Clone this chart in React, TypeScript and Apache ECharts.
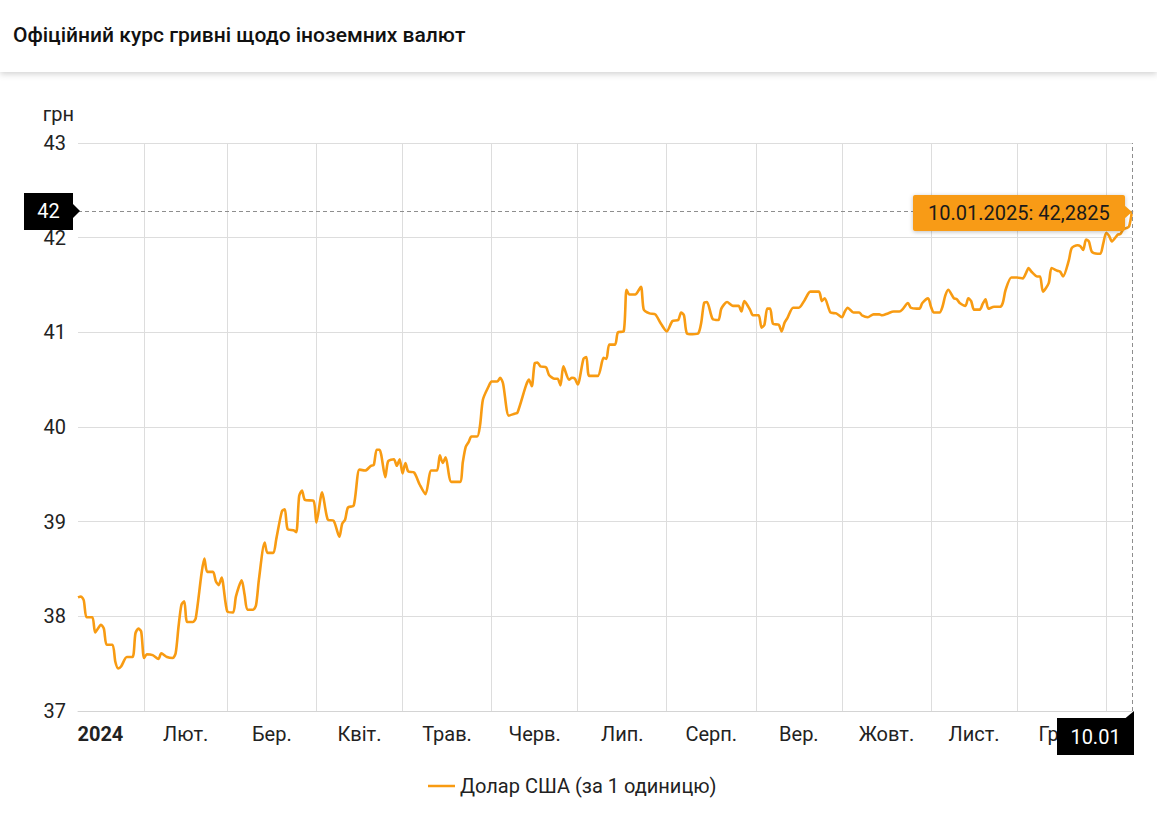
import React, { useEffect, useRef } from "react";
import * as echarts from "echarts";

const TITLE = "Офіційний курс гривні щодо іноземних валют";
const SERIES_NAME = "Долар США (за 1 одиницю)";
const Y_UNIT = "грн";
const MONTH_LABELS = ["Січ.", "Лют.", "Бер.", "Квіт.", "Трав.", "Черв.", "Лип.", "Серп.", "Вер.", "Жовт.", "Лист.", "Груд."];
const YEAR_LABEL = "2024";
const Y_MIN = 37;
const Y_MAX = 43;
const Y_INTERVAL = 1;

const rateDates = [
  "2024-01-09", "2024-01-10", "2024-01-11", "2024-01-12", "2024-01-14", "2024-01-15", "2024-01-17", "2024-01-18", "2024-01-19", "2024-01-21",
  "2024-01-22", "2024-01-23", "2024-01-24", "2024-01-26", "2024-01-28", "2024-01-29", "2024-01-30", "2024-01-31",
  "2024-02-01", "2024-02-02", "2024-02-04", "2024-02-06", "2024-02-07", "2024-02-09", "2024-02-11", "2024-02-12", "2024-02-13", "2024-02-14",
  "2024-02-15", "2024-02-16", "2024-02-18", "2024-02-19", "2024-02-21", "2024-02-22", "2024-02-23", "2024-02-25", "2024-02-26", "2024-02-27", "2024-02-28",
  "2024-03-01", "2024-03-03", "2024-03-04", "2024-03-06", "2024-03-07", "2024-03-08", "2024-03-10", "2024-03-11", "2024-03-12", "2024-03-14",
  "2024-03-15", "2024-03-17", "2024-03-18", "2024-03-20", "2024-03-21", "2024-03-22", "2024-03-24", "2024-03-25", "2024-03-26", "2024-03-27",
  "2024-03-28", "2024-03-31",
  "2024-04-01", "2024-04-03", "2024-04-05", "2024-04-07", "2024-04-09", "2024-04-10", "2024-04-11", "2024-04-12", "2024-04-14", "2024-04-16",
  "2024-04-18", "2024-04-20", "2024-04-21", "2024-04-22", "2024-04-23", "2024-04-25", "2024-04-26", "2024-04-28", "2024-04-29", "2024-04-30",
  "2024-05-01", "2024-05-02", "2024-05-03", "2024-05-05", "2024-05-07", "2024-05-09", "2024-05-11", "2024-05-13", "2024-05-14", "2024-05-15",
  "2024-05-16", "2024-05-18", "2024-05-21", "2024-05-22", "2024-05-23", "2024-05-24", "2024-05-25", "2024-05-27", "2024-05-28", "2024-05-29", "2024-05-31",
  "2024-06-01", "2024-06-03", "2024-06-04", "2024-06-05", "2024-06-07", "2024-06-09", "2024-06-10", "2024-06-13", "2024-06-14", "2024-06-15",
  "2024-06-16", "2024-06-17", "2024-06-18", "2024-06-20", "2024-06-21", "2024-06-23", "2024-06-24", "2024-06-25", "2024-06-26", "2024-06-28",
  "2024-06-29", "2024-06-30",
  "2024-07-01", "2024-07-03", "2024-07-04", "2024-07-05", "2024-07-08", "2024-07-10", "2024-07-11", "2024-07-12", "2024-07-14", "2024-07-15",
  "2024-07-17", "2024-07-18", "2024-07-19", "2024-07-21", "2024-07-23", "2024-07-24", "2024-07-26", "2024-07-28", "2024-07-30",
  "2024-08-01", "2024-08-03", "2024-08-05", "2024-08-06", "2024-08-07", "2024-08-08", "2024-08-10", "2024-08-12", "2024-08-13", "2024-08-14",
  "2024-08-15", "2024-08-17", "2024-08-19", "2024-08-20", "2024-08-22", "2024-08-24", "2024-08-26", "2024-08-27", "2024-08-28", "2024-08-30", "2024-08-31",
  "2024-09-02", "2024-09-03", "2024-09-04", "2024-09-05", "2024-09-06", "2024-09-07", "2024-09-09", "2024-09-10", "2024-09-11", "2024-09-12",
  "2024-09-14", "2024-09-16", "2024-09-18", "2024-09-20", "2024-09-23", "2024-09-24", "2024-09-25", "2024-09-27", "2024-09-29",
  "2024-10-01", "2024-10-02", "2024-10-03", "2024-10-05", "2024-10-07", "2024-10-08", "2024-10-10", "2024-10-12", "2024-10-14", "2024-10-15",
  "2024-10-17", "2024-10-19", "2024-10-21", "2024-10-22", "2024-10-24", "2024-10-25", "2024-10-27", "2024-10-28", "2024-10-29", "2024-10-31",
  "2024-11-01", "2024-11-02", "2024-11-04", "2024-11-05", "2024-11-06", "2024-11-07", "2024-11-09", "2024-11-10", "2024-11-11", "2024-11-13",
  "2024-11-14", "2024-11-15", "2024-11-16", "2024-11-18", "2024-11-19", "2024-11-20", "2024-11-21", "2024-11-23", "2024-11-25", "2024-11-26",
  "2024-11-27", "2024-11-29",
  "2024-12-01", "2024-12-03", "2024-12-04", "2024-12-05", "2024-12-06", "2024-12-08", "2024-12-09", "2024-12-10", "2024-12-12", "2024-12-13",
  "2024-12-15", "2024-12-16", "2024-12-17", "2024-12-19", "2024-12-20", "2024-12-22", "2024-12-23", "2024-12-24", "2024-12-25", "2024-12-26",
  "2024-12-27", "2024-12-29", "2024-12-30", "2024-12-31",
  "2025-01-01", "2025-01-02", "2025-01-03", "2025-01-05", "2025-01-06", "2025-01-07", "2025-01-08", "2025-01-09", "2025-01-10",
];

const rateValues = [
  38.20, 38.21, 38.17, 37.99, 37.99, 37.83, 37.91, 37.87, 37.70, 37.70,
  37.52, 37.45, 37.47, 37.57, 37.57, 37.82, 37.87, 37.84,
  37.56, 37.60, 37.59, 37.55, 37.61, 37.57, 37.56, 37.61, 37.89, 38.12,
  38.16, 37.94, 37.94, 37.98, 38.45, 38.61, 38.47, 38.47, 38.37, 38.33, 38.41,
  38.05, 38.04, 38.21, 38.38, 38.23, 38.07, 38.07, 38.12, 38.39, 38.78,
  38.67, 38.67, 38.81, 39.11, 39.13, 38.92, 38.91, 38.89, 39.27, 39.33,
  39.23, 39.22,
  38.99, 39.31, 39.02, 39.01, 38.84, 38.98, 39.02, 39.15, 39.17, 39.55,
  39.54, 39.59, 39.60, 39.76, 39.76, 39.47, 39.64, 39.66, 39.59, 39.66,
  39.51, 39.62, 39.53, 39.52, 39.39, 39.29, 39.54, 39.54, 39.70, 39.62,
  39.68, 39.42, 39.42, 39.63, 39.79, 39.84, 39.90, 39.90, 40.02, 40.29, 40.43,
  40.48, 40.48, 40.52, 40.46, 40.12, 40.14, 40.15, 40.44, 40.50, 40.43,
  40.67, 40.68, 40.64, 40.63, 40.55, 40.51, 40.51, 40.44, 40.64, 40.50,
  40.52, 40.51,
  40.45, 40.72, 40.74, 40.54, 40.54, 40.73, 40.72, 40.87, 40.87, 41.00,
  41.01, 41.45, 41.40, 41.40, 41.48, 41.24, 41.20, 41.19, 41.09,
  41.01, 41.12, 41.13, 41.21, 41.18, 40.99, 40.98, 40.99, 41.10, 41.31,
  41.32, 41.14, 41.13, 41.25, 41.32, 41.28, 41.28, 41.22, 41.33, 41.24, 41.18,
  41.18, 41.05, 41.08, 41.25, 41.25, 41.09, 41.08, 41.01, 41.10, 41.15,
  41.26, 41.26, 41.34, 41.43, 41.43, 41.33, 41.36, 41.21, 41.20,
  41.16, 41.22, 41.26, 41.21, 41.21, 41.18, 41.16, 41.19, 41.19, 41.18,
  41.20, 41.22, 41.22, 41.24, 41.31, 41.26, 41.25, 41.25, 41.31, 41.36,
  41.27, 41.21, 41.21, 41.27, 41.39, 41.45, 41.36, 41.35, 41.31, 41.28,
  41.36, 41.33, 41.24, 41.24, 41.30, 41.35, 41.25, 41.27, 41.27, 41.31,
  41.45, 41.58,
  41.58, 41.57, 41.62, 41.68, 41.64, 41.59, 41.59, 41.43, 41.52, 41.68,
  41.65, 41.64, 41.59, 41.76, 41.89, 41.92, 41.91, 41.87, 41.98, 41.96,
  41.85, 41.83, 41.83, 41.94,
  42.05, 42.02, 41.96, 42.03, 42.04, 42.09, 42.10, 42.12, 42.2825,
];

const LINE_COLOR = "#f89b12";
const TEXT_COLOR = "#222222";
const FONT = "Roboto, 'Noto Sans', sans-serif";
const FS = 20;
const TOP_Z = 100;

function ts(s: string): number {
  const [y, m, d] = s.split("-").map(Number);
  return new Date(y, m - 1, d).getTime();
}

function fmtDate(s: string, withYear: boolean): string {
  const [y, m, d] = s.split("-");
  return withYear ? `${d}.${m}.${y}` : `${d}.${m}`;
}

export default function App() {
  const ref = useRef<HTMLDivElement | null>(null);

  useEffect(() => {
    if (!ref.current) return;
    const chart = echarts.init(ref.current, undefined, { renderer: "svg" });

    const data = rateDates.map((d, i) => [ts(d), rateValues[i]]);
    const startTs = ts(rateDates[0]);
    const lastDate = rateDates[rateDates.length - 1];
    const lastTs = ts(lastDate);
    const lastVal = rateValues[rateValues.length - 1];

    const monthStarts: number[] = [];
    for (let i = 1; i <= 12; i++) monthStarts.push(new Date(2024, i, 1).getTime());
    const labelVals: number[] = [startTs + 7.8 * 86400000];
    for (let i = 1; i <= 11; i++) {
      const a = new Date(2024, i, 1).getTime();
      const b = new Date(2024, i + 1, 1).getTime();
      labelVals.push((a + b) / 2);
    }

    const option: any = {
      animation: false,
      backgroundColor: "#ffffff",
      textStyle: { fontFamily: FONT },
      title: {
        text: TITLE,
        left: 8,
        top: 19,
        textStyle: { fontSize: 21, fontWeight: 500, color: "#111111", fontFamily: FONT },
      },
      legend: {
        top: 776,
        left: 428,
        icon: "rect",
        itemWidth: 27,
        itemHeight: 2.5,
        itemGap: 10,
        padding: 0,
        textStyle: { fontSize: FS, color: TEXT_COLOR, fontFamily: FONT },
        data: [SERIES_NAME],
      },
      grid: { left: 78, right: 25, top: 143, bottom: 105, containLabel: false },
      xAxis: {
        type: "value",
        min: startTs,
        max: lastTs,
        z: 1,
        axisLine: { show: true, lineStyle: { color: "#d4d4d4" } },
        axisTick: { show: false, customValues: monthStarts },
        splitLine: { show: true, lineStyle: { color: "#dddddd", width: 1 } },
        axisLabel: {
          customValues: labelVals,
          fontSize: FS,
          color: TEXT_COLOR,
          margin: 13,
          formatter: (v: number) => {
            const d = new Date(v);
            if (d.getFullYear() === 2024 && d.getMonth() === 0) return `{b|${YEAR_LABEL}}`;
            return MONTH_LABELS[d.getMonth()];
          },
          rich: { b: { fontWeight: "bold", fontSize: FS, color: TEXT_COLOR, fontFamily: FONT } },
        },
      },
      yAxis: {
        type: "value",
        min: Y_MIN,
        max: Y_MAX,
        interval: Y_INTERVAL,
        name: Y_UNIT,
        nameLocation: "end",
        nameGap: 19,
        nameTextStyle: { fontSize: FS, color: TEXT_COLOR, align: "right", verticalAlign: "bottom", padding: [0, 4, 0, 0] },
        axisLine: { show: false },
        axisTick: { show: false },
        splitLine: { show: true, lineStyle: { color: "#dddddd", width: 1 } },
        axisLabel: { fontSize: FS, color: TEXT_COLOR, margin: 12 },
      },
      series: [
        {
          name: SERIES_NAME,
          type: "line",
          data,
          symbol: "none",
          smooth: 0.25,
          lineStyle: { color: LINE_COLOR, width: 2.6 },
          itemStyle: { color: LINE_COLOR },
          markLine: {
            silent: true,
            symbol: "none",
            label: { show: false },
            lineStyle: { type: [4, 3], color: "#8e8e8e", width: 1 },
            data: [{ yAxis: lastVal }, { xAxis: lastTs }],
          },
        },
      ],
    };

    chart.setOption(option);

    const p = chart.convertToPixel({ gridIndex: 0 }, [lastTs, lastVal]) as number[];
    const leftX = (chart.convertToPixel({ gridIndex: 0 }, [startTs, lastVal]) as number[])[0];
    const bottomY = (chart.convertToPixel({ gridIndex: 0 }, [lastTs, Y_MIN]) as number[])[1];
    const px = p[0];
    const py = p[1];

    const tipText = `${fmtDate(lastDate, true)}: ${lastVal.toFixed(4).replace(".", ",")}`;

    chart.setOption({
      graphic: [
        {
          type: "rect",
          z: 0,
          silent: true,
          shape: { x: 0, y: 0, width: 1157, height: 72 },
          style: { fill: "#ffffff", shadowBlur: 6, shadowOffsetY: 2, shadowColor: "rgba(0,0,0,0.18)" },
        },
        {
          type: "rect",
          z: TOP_Z,
          silent: true,
          x: px,
          y: py,
          shape: { x: -219, y: -16, width: 212, height: 36, r: 2 },
          style: { fill: LINE_COLOR, shadowBlur: 4, shadowOffsetY: 1, shadowColor: "rgba(0,0,0,0.25)" },
        },
        {
          type: "polygon",
          z: TOP_Z,
          silent: true,
          x: px,
          y: py,
          shape: { points: [[-8, -6], [0, 1], [-8, 8]] },
          style: { fill: LINE_COLOR },
        },
        {
          type: "text",
          z: TOP_Z + 1,
          silent: true,
          x: px - 204,
          y: py + 2,
          style: { text: tipText, fontSize: FS, fill: "#1a1a1a", fontFamily: FONT, verticalAlign: "middle", align: "left" },
        },
        {
          type: "rect",
          z: TOP_Z,
          silent: true,
          x: leftX,
          y: py,
          shape: { x: -54, y: -18, width: 49, height: 37 },
          style: { fill: "#000000" },
        },
        {
          type: "polygon",
          z: TOP_Z,
          silent: true,
          x: leftX,
          y: py,
          shape: { points: [[-5, -7], [2, 0], [-5, 7]] },
          style: { fill: "#000000" },
        },
        {
          type: "text",
          z: TOP_Z + 1,
          silent: true,
          x: leftX - 29.5,
          y: py + 0.5,
          style: { text: String(Math.round(lastVal)), fontSize: FS, fill: "#ffffff", fontFamily: FONT, align: "center", verticalAlign: "middle" },
        },
        {
          type: "rect",
          z: TOP_Z,
          silent: true,
          x: px,
          y: bottomY,
          shape: { x: -75, y: 7, width: 77, height: 37 },
          style: { fill: "#000000" },
        },
        {
          type: "polygon",
          z: TOP_Z,
          silent: true,
          x: px,
          y: bottomY,
          shape: { points: [[-7, 7.5], [2, 0], [2, 7.5]] },
          style: { fill: "#000000" },
        },
        {
          type: "text",
          z: TOP_Z + 1,
          silent: true,
          x: px - 36.5,
          y: bottomY + 25.5,
          style: { text: fmtDate(lastDate, false), fontSize: FS, fill: "#ffffff", fontFamily: FONT, align: "center", verticalAlign: "middle" },
        },
      ],
    });

    return () => chart.dispose();
  }, []);

  return <div ref={ref} style={{ position: "fixed", left: 0, top: 0, width: 1157, height: 816 }} />;
}
